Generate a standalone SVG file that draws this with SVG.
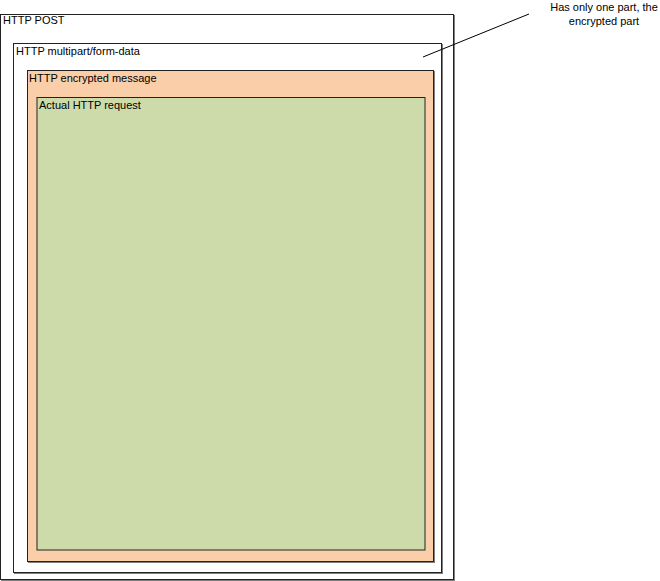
<svg xmlns="http://www.w3.org/2000/svg" width="660" height="581" viewBox="0 0 660 581">
  <style>
    .lbl { font-family: "Liberation Sans", Arial, sans-serif; font-size: 11px; fill: #000; }
    .shadow { fill: none; stroke: #808080; stroke-width: 1; }
    .box { stroke: #222; stroke-width: 1; }
  </style>
  <rect width="660" height="581" fill="#fff"/>

  <g id="http-post">
    <rect class="shadow" x="1.5" y="15.5" width="453" height="565"/>
    <rect class="box" x="0.5" y="14.5" width="453" height="565" fill="#fff"/>
    <text class="lbl" x="3" y="24">HTTP POST</text>
  </g>

  <g id="multipart">
    <rect class="shadow" x="14.5" y="44.5" width="428" height="529"/>
    <rect class="box" x="13.5" y="43.5" width="428" height="529" fill="#fff"/>
    <text class="lbl" x="16" y="55">HTTP multipart/form-data</text>
  </g>

  <g id="encrypted">
    <rect class="shadow" x="28.5" y="71.5" width="406" height="491"/>
    <rect class="box" x="27.5" y="70.5" width="406" height="491" fill="#fbceaa"/>
    <text class="lbl" x="29" y="82">HTTP encrypted message</text>
  </g>

  <g id="request">
    <rect class="box" x="37" y="97.5" width="388" height="452.5" fill="#cddbab"/>
    <text class="lbl" x="39" y="109">Actual HTTP request</text>
  </g>

  <g id="connectors">
    <line x1="423" y1="57" x2="529" y2="14" stroke="#000" stroke-width="1"/>
  </g>

  <g id="note">
    <text class="lbl" x="604" y="11" text-anchor="middle">Has only one part, the</text>
    <text class="lbl" x="604" y="25" text-anchor="middle">encrypted part</text>
  </g>
</svg>
